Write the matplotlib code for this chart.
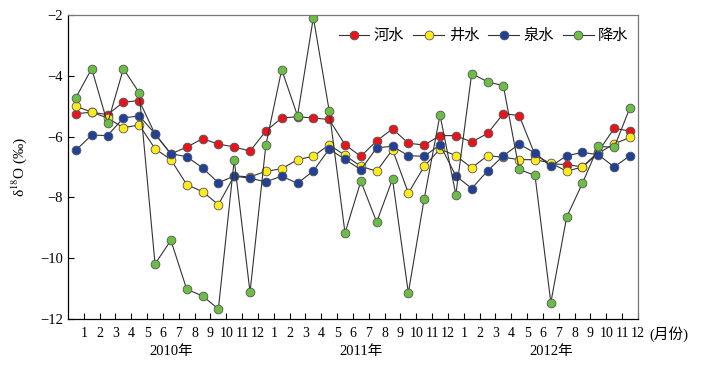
import numpy as np
import matplotlib
matplotlib.use("Agg")
import matplotlib.pyplot as plt

plt.rcParams['font.family'] = ['Liberation Serif', 'Noto Sans CJK SC']
plt.rcParams['mathtext.fontset'] = 'stix'

# ---------------- data ----------------
years = ['2010年', '2011年', '2012年']
months = [str(m) for m in range(1, 13)] * 3
series_names = ['河水', '井水', '泉水', '降水']

river = [-5.25, -5.20, -5.28, -4.87, -4.82, -5.92, -6.57, -6.35, -6.07, -6.25, -6.34, -6.48,
         -5.82, -5.39, -5.35, -5.39, -5.44, -6.27, -6.65, -6.14, -5.75, -6.22, -6.28, -5.97,
         -5.97, -6.18, -5.90, -5.25, -5.31, -6.60, -6.90, -6.92, -7.00, -6.50, -5.73, -5.82]
well = [-5.00, -5.20, -5.39, -5.71, -5.62, -6.40, -6.76, -7.58, -7.81, -8.24, -7.29, -7.33,
        -7.14, -7.06, -6.76, -6.65, -6.27, -6.62, -6.98, -7.14, -6.43, -7.86, -6.98, -6.41,
        -6.63, -7.03, -6.63, -6.68, -6.76, -6.76, -6.87, -7.14, -7.00, -6.55, -6.24, -6.03]
spring = [-6.45, -5.95, -5.97, -5.39, -5.32, -5.91, -6.57, -6.66, -7.03, -7.52, -7.30, -7.37,
          -7.49, -7.30, -7.54, -7.13, -6.41, -6.75, -7.09, -6.37, -6.32, -6.63, -6.65, -6.27,
          -7.29, -7.71, -7.13, -6.63, -6.25, -6.54, -6.98, -6.63, -6.52, -6.60, -7.00, -6.63]
rain = [-4.72, -3.77, -5.57, -3.77, -4.56, -10.19, -9.41, -11.02, -11.24, -11.67, -6.77, -11.12,
        -6.28, -3.80, -5.32, -2.09, -5.15, -9.17, -7.47, -8.81, -7.40, -11.14, -8.05, -5.29,
        -7.91, -3.93, -4.20, -4.33, -7.08, -7.28, -11.46, -8.65, -7.53, -6.32, -6.36, -5.05]

colors = ['#e8141c', '#fdeb1e', '#21409a', '#6cbd45']

# ---------------- plot ----------------
fig = plt.figure(figsize=(7.08, 3.71), dpi=100)
ax = fig.add_axes([0.096, 0.140, 0.805, 0.820])

x = np.arange(len(river)) + 0.5
for vals, c, name in zip([river, well, spring, rain], colors, series_names):
    ax.plot(x, vals, '-', color='#333333', lw=0.8, marker='o', ms=6.3,
            mfc=c, mec='#555555', mew=0.6, label=name)

ax.set_xlim(0, 36)
ax.set_ylim(-12, -2)
ax.set_yticks(np.arange(-12, -1, 2))
ax.set_xticks(np.arange(1, 37))
ax.set_xticklabels(months)
ax.tick_params(direction='in', length=4, labelsize=10.5, width=0.8)
ax.tick_params(axis='x', pad=6, labelsize=10)

for s in ['top', 'right']:
    ax.spines[s].set_color('#777777')
for s in ax.spines.values():
    s.set_linewidth(0.9)

ax.set_ylabel('δ$^{18}$O (‰)', fontsize=11, labelpad=8)

trans = ax.get_xaxis_transform()
for i, yr in enumerate(years):
    ax.text(12 * i + 6.5, -0.105, yr, transform=trans, ha='center', va='center', fontsize=10.5)
ax.text(36.75, -0.05, '(月份)', transform=trans, ha='left', va='center', fontsize=10.5)

ax.legend(loc='upper right', bbox_to_anchor=(1.0, 0.985), ncol=4, frameon=False,
          fontsize=11, handlelength=2.0, handletextpad=0.3, columnspacing=0.6,
          borderaxespad=0.2)

fig.savefig('out.png', dpi=100)
